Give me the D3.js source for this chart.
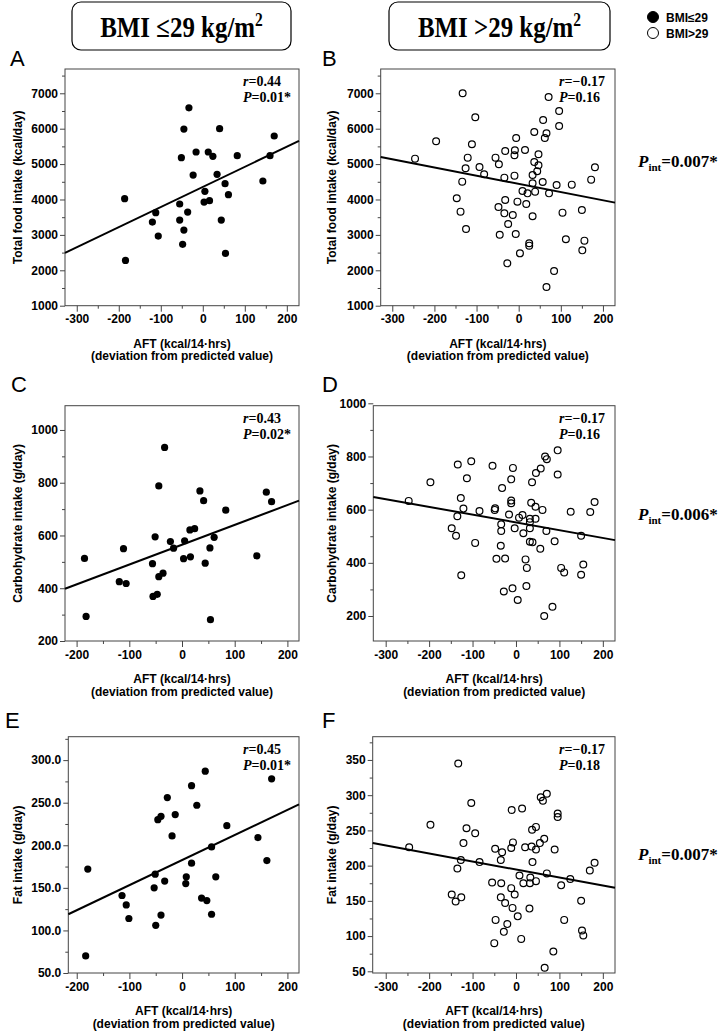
<!DOCTYPE html>
<html>
<head>
<meta charset="utf-8">
<script src="https://cdn.jsdelivr.net/npm/d3@7"></script>
<style>
  body { margin: 0; background: #fff; }
  svg { display: block; }
  .tick text { font-family: "Liberation Sans", Arial, sans-serif; font-weight: bold; font-size: 12px; fill: #000; }
  .tick line { stroke: #444; }
</style>
</head>
<body>
<svg width="728" height="1031"></svg>
<script>
// AFT deviation (x) vs intake (y)
const pointsA = [[-33,6590],[-45,5990],[40,6000],[170,5793],[-16,5341],[13,5341],[-51,5181],[24,5218],[82,5237],[160,5237],[-23,4691],[34,4710],[143,4522],[53,4446],[-186,4023],[5,4230],[61,4135],[-55,3872],[3,3928],[16,3966],[-112,3627],[-36,3646],[-120,3363],[-55,3420],[44,3420],[-106,2968],[-45,3137],[-48,2733],[54,2478],[-184,2280]];
const pointsB = [[-133,7000],[71,6897],[96,6501],[-103,6322],[58,6247],[96,6077],[-196,5644],[37,5908],[66,5870],[-6,5738],[62,5738],[-111,5559],[-32,5371],[-9,5390],[15,5399],[-10,5248],[47,5277],[-121,5182],[-55,5182],[-246,5154],[37,5060],[-47,4994],[47,4966],[181,4909],[-126,4881],[-93,4919],[44,4796],[-82,4711],[33,4693],[-10,4674],[-34,4617],[172,4561],[-134,4504],[57,4495],[33,4457],[90,4410],[126,4419],[9,4240],[21,4174],[39,4222],[72,4174],[-147,4033],[-32,3986],[-3,3939],[18,3873],[-48,3788],[-138,3656],[-34,3609],[-14,3562],[33,3525],[104,3628],[150,3704],[-25,3308],[-125,3167],[-45,3006],[-7,3025],[112,2875],[156,2837],[25,2762],[25,2696],[151,2564],[3,2479],[-27,2196],[84,1980],[66,1528]];
const pointsC = [[-33,934],[-44,788],[34,769],[160,764],[41,732],[170,728],[83,696],[15,621],[24,626],[-51,595],[61,593],[-22,577],[5,580],[-16,552],[53,553],[-111,550],[-185,513],[3,512],[16,519],[142,523],[-56,493],[44,495],[-36,457],[-44,444],[-119,425],[-106,418],[-47,377],[-55,369],[-182,293],[54,281]];
const pointsD = [[96,823],[67,800],[71,790],[-103,782],[-134,770],[-54,765],[-7,757],[57,755],[46,738],[96,732],[-197,703],[-113,718],[-11,714],[37,703],[-32,681],[-247,633],[181,629],[-127,644],[-11,634],[-11,624],[35,626],[45,611],[-121,604],[-48,605],[-49,599],[-84,595],[61,599],[126,592],[171,591],[-135,575],[-16,582],[15,580],[7,570],[32,566],[45,566],[-34,545],[32,553],[-148,530],[-3,530],[32,530],[-34,520],[70,520],[-138,502],[17,511],[150,502],[32,479],[38,477],[89,481],[-94,475],[-35,464],[56,453],[-45,415],[-25,416],[22,413],[25,381],[104,381],[111,364],[155,394],[150,355],[-126,353],[24,313],[-8,304],[-28,292],[4,260],[84,235],[65,200]];
const pointsE = [[44,287],[18,270],[170,278],[-28,256],[28,247],[-46,230],[-40,234],[-13,236],[85,223],[-19,211],[144,209],[56,198],[161,182],[-179,172],[18,179],[-51,166],[8,163],[64,163],[-33,158],[7,155],[-53,150],[-114,141],[37,138],[47,135],[-106,130],[-40,118],[56,119],[-101,114],[-50,106],[-183,70]];
const pointsF = [[-133,345],[71,302],[57,297],[62,292],[-103,289],[14,281],[-10,279],[96,274],[96,269],[-197,258],[-114,253],[46,255],[37,251],[-94,246],[65,238],[-7,233],[-121,232],[55,232],[36,227],[21,226],[-11,225],[-48,224],[-246,226],[46,223],[89,223],[-32,219],[-35,208],[-127,208],[-84,205],[38,205],[181,204],[170,193],[-135,196],[71,189],[8,186],[33,183],[125,181],[-55,176],[-34,175],[17,175],[32,175],[46,178],[104,172],[-11,168],[-3,159],[-148,159],[-126,155],[-139,149],[-35,155],[150,150],[-25,147],[-8,140],[31,139],[-47,123],[4,128],[111,123],[-20,117],[-28,106],[12,96],[-50,90],[152,108],[155,101],[86,78],[66,55]];

// regression lines: [intercept, slope]
const fitA = [4354, 5.68];
const fitB = [4442, -2.32];
const fitC = [565, 0.752];
const fitD = [552, -0.292];
const fitE = [182.6, 0.2945];
const fitF = [194.5, -0.1136];

// r and P per panel
const rValues = ["0.44", "\u22120.17", "0.43", "\u22120.17", "0.45", "\u22120.17"];
const pValues = ["0.01*", "0.16", "0.02*", "0.16", "0.01*", "0.18"];
const pInteraction = ["0.007*", "0.006*", "0.007*"];

// ticks
const xTicksWide = [-300, -200, -100, 0, 100, 200];
const xMinorWide = [-250, -150, -50, 50, 150];
const xTicksNarrow = [-200, -100, 0, 100, 200];
const xMinorNarrow = [-150, -50, 50, 150];
const yTicksFood = [1000, 2000, 3000, 4000, 5000, 6000, 7000];
const yMinorFood = [1500, 2500, 3500, 4500, 5500, 6500, 7500];
const yTicksCarb = [200, 400, 600, 800, 1000];
const yMinorCarb = [300, 500, 700, 900];
const yTicksFatE = [50, 100, 150, 200, 250, 300];
const yMinorFatE = [75, 125, 175, 225, 275, 325];
const yTicksFatF = [50, 100, 150, 200, 250, 300, 350];
const yMinorFatF = [75, 125, 175, 225, 275, 325, 375];

const yTitles = ["Total food intake (kcal/day)", "Carbohydrate intake (g/day)", "Fat intake (g/day)"];
const headers = ["BMI \u226429 kg/m", "BMI >29 kg/m"];
const legendLabels = ["BMI\u226429", "BMI>29"];

const sans = '"Liberation Sans", Arial, sans-serif';
const serif = '"Liberation Serif", "Times New Roman", serif';
const svg = d3.select("svg");

const panels = [
  { id: "A", pts: pointsA, fit: fitA, filled: true, x0: 65, x1: 299, y0: 69, y1: 305.7, xd: [-328, 229], yd: [1000, 7686],
    xt: xTicksWide, xm: xMinorWide, yt: yTicksFood, ym: yMinorFood, fmt: d => String(d), title: yTitles[0], tx: 22, lx: 10, ly: 66 },
  { id: "B", pts: pointsB, fit: fitB, filled: false, x0: 380.7, x1: 615, y0: 69, y1: 305.7, xd: [-327.5, 228.6], yd: [1000, 7686],
    xt: xTicksWide, xm: xMinorWide, yt: yTicksFood, ym: yMinorFood, fmt: d => String(d), title: yTitles[0], tx: 336, lx: 322, ly: 66 },
  { id: "C", pts: pointsC, fit: fitC, filled: true, x0: 65, x1: 299, y0: 405.7, y1: 641, xd: [-222, 222], yd: [200, 1092],
    xt: xTicksNarrow, xm: xMinorNarrow, yt: yTicksCarb, ym: yMinorCarb, fmt: d => String(d), title: yTitles[1], tx: 22, lx: 11, ly: 392 },
  { id: "D", pts: pointsD, fit: fitD, filled: false, x0: 373.3, x1: 615, y0: 405.7, y1: 641, xd: [-328.5, 228], yd: [106, 991],
    xt: xTicksWide, xm: xMinorWide, yt: yTicksCarb, ym: yMinorCarb, fmt: d => String(d), title: yTitles[1], tx: 336, lx: 322, ly: 392 },
  { id: "E", pts: pointsE, fit: fitE, filled: true, x0: 68.3, x1: 299, y0: 736.7, y1: 973, xd: [-216, 222], yd: [50, 327.5],
    xt: xTicksNarrow, xm: xMinorNarrow, yt: yTicksFatE, ym: yMinorFatE, fmt: d => d.toFixed(1), title: yTitles[2], tx: 22, lx: 5, ly: 728 },
  { id: "F", pts: pointsF, fit: fitF, filled: false, x0: 372.7, x1: 615, y0: 736.7, y1: 973, xd: [-330, 228], yd: [47.6, 383],
    xt: xTicksWide, xm: xMinorWide, yt: yTicksFatF, ym: yMinorFatF, fmt: d => String(d), title: yTitles[2], tx: 336, lx: 322, ly: 728 }
];

panels.forEach((p, i) => {
  const x = d3.scaleLinear().domain(p.xd).range([p.x0, p.x1]);
  const y = d3.scaleLinear().domain(p.yd).range([p.y1, p.y0]);
  const g = svg.append("g");

  // axes: minor then major ticks
  g.append("g").attr("transform", `translate(0,${p.y1})`)
    .call(d3.axisBottom(x).tickValues(p.xm).tickSize(3).tickFormat(""));
  g.append("g").attr("transform", `translate(0,${p.y1})`)
    .call(d3.axisBottom(x).tickValues(p.xt).tickSize(6).tickPadding(3).tickFormat(d => String(d)));
  g.append("g").attr("transform", `translate(${p.x0},0)`)
    .call(d3.axisLeft(y).tickValues(p.ym.filter(v => v <= p.yd[1])).tickSize(3).tickFormat(""));
  g.append("g").attr("transform", `translate(${p.x0},0)`)
    .call(d3.axisLeft(y).tickValues(p.yt).tickSize(5).tickPadding(2).tickFormat(p.fmt));
  g.selectAll(".domain").remove();

  g.append("rect")
    .attr("x", p.x0).attr("y", p.y0)
    .attr("width", p.x1 - p.x0).attr("height", p.y1 - p.y0)
    .attr("fill", "none").attr("stroke", "#444").attr("stroke-width", 1);

  // fit line
  g.append("path")
    .datum(p.xd)
    .attr("d", d3.line().x(d => x(d)).y(d => y(p.fit[0] + p.fit[1] * d)))
    .attr("stroke", "#000").attr("stroke-width", 2).attr("fill", "none");

  // points
  g.selectAll("circle.pt").data(p.pts).enter().append("circle")
    .attr("class", "pt")
    .attr("cx", d => x(d[0])).attr("cy", d => y(d[1]))
    .attr("r", p.filled ? 3.6 : 3.4)
    .attr("fill", p.filled ? "#000" : "none")
    .attr("stroke", "#000").attr("stroke-width", p.filled ? 0 : 1.2);

  // axis titles
  const cx = (p.x0 + p.x1) / 2;
  g.append("text").attr("x", cx).attr("y", p.y1 + 42).attr("text-anchor", "middle")
    .attr("font-family", sans).attr("font-weight", "bold").attr("font-size", 12)
    .text("AFT (kcal/14\u00b7hrs)");
  g.append("text").attr("x", cx).attr("y", p.y1 + 54.5).attr("text-anchor", "middle")
    .attr("font-family", sans).attr("font-weight", "bold").attr("font-size", 12)
    .text("(deviation from predicted value)");
  g.append("text")
    .attr("transform", `translate(${p.tx},${(p.y0 + p.y1) / 2}) rotate(-90)`)
    .attr("text-anchor", "middle")
    .attr("font-family", sans).attr("font-weight", "bold").attr("font-size", 12)
    .text(p.title);

  // panel letter
  g.append("text").attr("x", p.lx).attr("y", p.ly)
    .attr("font-family", sans).attr("font-size", 22).text(p.id);

  // r / P
  const sx = p.x1 - 56;
  const rt = g.append("text").attr("x", sx).attr("y", p.y0 + 17)
    .attr("font-family", serif).attr("font-weight", "bold").attr("font-size", 14);
  rt.append("tspan").attr("font-style", "italic").text("r");
  rt.append("tspan").text("=" + rValues[i]);
  const pt = g.append("text").attr("x", sx).attr("y", p.y0 + 33)
    .attr("font-family", serif).attr("font-weight", "bold").attr("font-size", 14);
  pt.append("tspan").attr("font-style", "italic").text("P");
  pt.append("tspan").text("=" + pValues[i]);
});

// interaction P values
const pintY = [167, 520, 860];
pInteraction.forEach((v, i) => {
  const t = svg.append("text").attr("x", 638).attr("y", pintY[i])
    .attr("font-family", serif).attr("font-weight", "bold").attr("font-size", 17);
  t.append("tspan").attr("font-style", "italic").text("P");
  t.append("tspan").attr("font-size", 11).attr("dy", 4).text("int");
  t.append("tspan").attr("dy", -4).text("=" + v);
});

// header boxes
const boxX = [[72, 291], [389, 610]];
headers.forEach((h, i) => {
  const [a, b] = boxX[i];
  svg.append("rect").attr("x", a).attr("y", 2).attr("width", b - a).attr("height", 48)
    .attr("rx", 9).attr("fill", "none").attr("stroke", "#000").attr("stroke-width", 1.2);
  const t = svg.append("text")
    .attr("transform", `translate(${(a + b) / 2},37) scale(0.86,1)`)
    .attr("text-anchor", "middle")
    .attr("font-family", serif).attr("font-weight", "bold").attr("font-size", 29);
  t.append("tspan").text(h);
  t.append("tspan").attr("font-size", 18).attr("dy", -11).text("2");
});

// legend
legendLabels.forEach((l, i) => {
  const yy = 17 + i * 16;
  svg.append("circle").attr("cx", 653).attr("cy", yy).attr("r", 5.5)
    .attr("fill", i === 0 ? "#000" : "#fff").attr("stroke", "#000").attr("stroke-width", 1);
  svg.append("text").attr("x", 666).attr("y", yy + 4.5)
    .attr("font-family", sans).attr("font-weight", "bold").attr("font-size", 12).text(l);
});
</script>
</body>
</html>
